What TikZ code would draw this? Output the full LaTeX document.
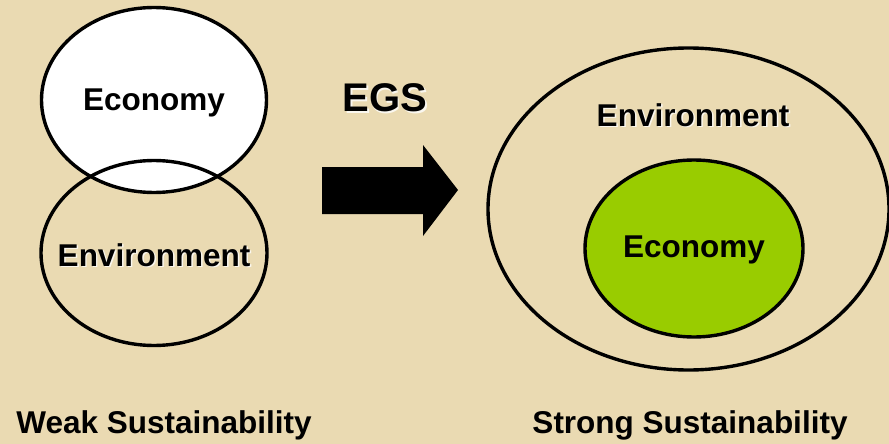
\documentclass[tikz,border=0pt]{standalone}
\usepackage{fontspec}
\setmainfont{Liberation Sans}
\usetikzlibrary{shapes.geometric}
\definecolor{paper}{RGB}{234,218,178}
\definecolor{econgreen}{RGB}{153,204,0}
\tikzset{
  ring/.style={ellipse, draw=black, line width=3.4pt, inner sep=0pt},
  lbl/.style={font=\bfseries\fontsize{31.5}{31.5}\selectfont, text=black, inner sep=0pt},
  shade/.style={font=\bfseries\fontsize{31.5}{31.5}\selectfont, text=white, inner sep=0pt, opacity=0.8},
}
\begin{document}
\begin{tikzpicture}[x=1pt,y=-1pt]
\fill[paper] (0,0) rectangle (889,444);
\useasboundingbox (0,0) rectangle (889,444);
% weak sustainability
\node[ring, fill=white, minimum width=225pt, minimum height=185pt] (econL) at (154,100) {};
\node[ring, minimum width=226pt, minimum height=185pt] (envL) at (154,253) {};
\node[shade] at (155.5,104.5) {Economy};
\node[lbl] (econLt) at (154,103) {Economy};
\node[shade] at (155.5,256.5) {Environment};
\node[lbl] (envLt) at (154,255) {Environment};
% arrow
\node[shade, font=\bfseries\fontsize{40}{40}\selectfont] at (386.5,99.5) {EGS};
\node[lbl, font=\bfseries\fontsize{40}{40}\selectfont] (egs) at (385,98) {EGS};
\fill[black] (322,167) -- (423,167) -- (423,145) -- (458,190) -- (423,236) -- (423,214) -- (322,214) -- cycle;
% strong sustainability
\node[ring, minimum width=401pt, minimum height=322pt] (envR) at (688.5,209) {};
\node[ring, fill=econgreen, minimum width=218pt, minimum height=177pt] (econR) at (694,248.5) {};
\node[shade] at (694.5,116.5) {Environment};
\node[lbl] (envRt) at (693,115) {Environment};
\node[lbl] (econRt) at (694,250) {Economy};
% captions
\node[lbl] (weak) at (164,425) {Weak Sustainability};
\node[lbl] (strong) at (690,425) {Strong Sustainability};
\end{tikzpicture}
\end{document}
